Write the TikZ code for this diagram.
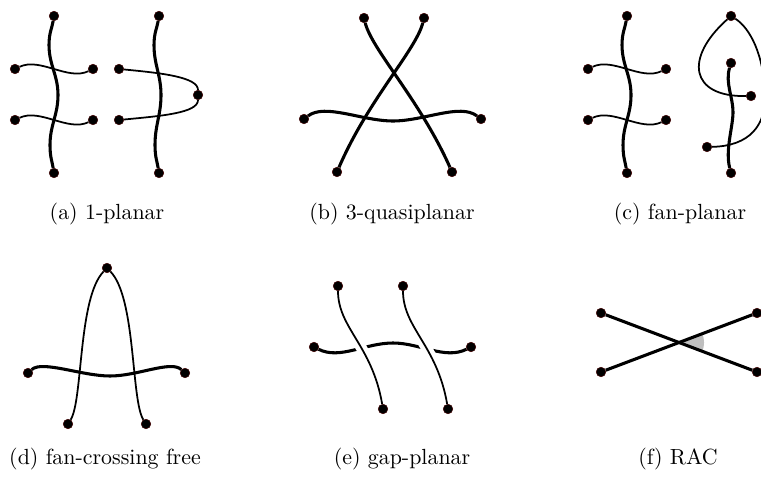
\documentclass[tikz,border=0pt]{standalone}
\usetikzlibrary{calc}
\definecolor{rim}{RGB}{70,0,0}

\begin{document}
\begin{tikzpicture}[
  x=0.01603cm, y=-0.01603cm,
  vtx/.style={circle, fill=black, draw=rim, line width=0.2pt, minimum size=4.4pt, inner sep=0pt},
  thk/.style={line width=1.4pt},
  thn/.style={line width=0.8pt},
  gapedge/.style={thn, preaction={draw=white, line width=5pt}},
  rightang/.style={fill=black!25},
  capt/.style={anchor=base}
]
  \clip (0,0) rectangle (761,479);

  \node[vtx] (a1t) at (54,16) {};
  \node[vtx] (a1b) at (54,173) {};
  \node[vtx] (a1l1) at (15,69) {};
  \node[vtx] (a1r1) at (93,69) {};
  \node[vtx] (a1l2) at (15,120) {};
  \node[vtx] (a1r2) at (93,120) {};
  \node[vtx] (a2t) at (159,16) {};
  \node[vtx] (a2b) at (159,173) {};
  \node[vtx] (a2l1) at (119,69) {};
  \node[vtx] (a2l2) at (119,120) {};
  \node[vtx] (a2r) at (198,95) {};

  \draw[thk] (a1t) .. controls +(-2,12) and +(0,-12) .. (49,45) .. controls +(0,20) and +(0,-20) .. (58,95) .. controls +(0,20) and +(0,-20) .. (50,145) .. controls +(0,12) and +(-2,-12) .. (a1b);
  \draw[thn] (a1l1) .. controls +(25,-12) and +(-25,12) .. (a1r1);
  \draw[thn] (a1l2) .. controls +(25,-12) and +(-25,12) .. (a1r2);
  \draw[thk] (a2t) .. controls +(-2,12) and +(0,-12) .. (154,45) .. controls +(0,20) and +(0,-20) .. (161,95) .. controls +(0,20) and +(0,-20) .. (155,145) .. controls +(0,12) and +(-2,-12) .. (a2b);
  \draw[thn] (a2l1) .. controls +(42,4) and +(0,-18) .. (a2r);
  \draw[thn] (a2l2) .. controls +(42,-4) and +(0,18) .. (a2r);

  \node[vtx] (b1) at (364,18) {};
  \node[vtx] (b2) at (424,18) {};
  \node[vtx] (b3) at (337,172) {};
  \node[vtx] (b4) at (452,172) {};
  \node[vtx] (b5) at (304,119) {};
  \node[vtx] (b6) at (481,119) {};

  \draw[thk] (b1) .. controls (372,50) and (420,100) .. (b4);
  \draw[thk] (b2) .. controls (416,50) and (368,100) .. (b3);
  \draw[thk] (b5) .. controls (325,103) and (362,121) .. (393,121) .. controls (424,121) and (460,103) .. (b6);

  \node[vtx] (c1t) at (627,16) {};
  \node[vtx] (c1b) at (627,173) {};
  \node[vtx] (c1l1) at (588,69) {};
  \node[vtx] (c1r1) at (666,69) {};
  \node[vtx] (c1l2) at (588,120) {};
  \node[vtx] (c1r2) at (666,120) {};
  \node[vtx] (c2t) at (731,16) {};
  \node[vtx] (c2u) at (731,63) {};
  \node[vtx] (c2r) at (751,96) {};
  \node[vtx] (c2l) at (707,147) {};
  \node[vtx] (c2b) at (731,173) {};

  \draw[thk] (c1t) .. controls +(-2,12) and +(0,-12) .. (622,45) .. controls +(0,20) and +(0,-20) .. (631,95) .. controls +(0,20) and +(0,-20) .. (623,145) .. controls +(0,12) and +(-2,-12) .. (c1b);
  \draw[thn] (c1l1) .. controls +(25,-12) and +(-25,12) .. (c1r1);
  \draw[thn] (c1l2) .. controls +(25,-12) and +(-25,12) .. (c1r2);
  \draw[thk] (c2u) .. controls +(-6,20) and +(0,-15) .. (733,112) .. controls +(0,15) and +(-6,-23) .. (c2b);
  \draw[thn] (c2t) .. controls (750,28) and (764,55) .. (765,95) .. controls (766,125) and (750,146) .. (c2l);
  \draw[thn] (c2t) .. controls (684,58) and (690,97) .. (c2r);

  \node[vtx] (d1) at (107,268) {};
  \node[vtx] (d2) at (28,373) {};
  \node[vtx] (d3) at (185,373) {};
  \node[vtx] (d4) at (68,424) {};
  \node[vtx] (d5) at (146,424) {};

  \draw[thn] (d1) .. controls (78,298) and (83,400) .. (d4);
  \draw[thn] (d1) .. controls (136,298) and (131,400) .. (d5);
  \draw[thk] (d2) .. controls (42,360) and (82,376) .. (110,376) .. controls (138,376) and (171,360) .. (d3);

  \node[vtx] (e1) at (338,286) {};
  \node[vtx] (e2) at (403,286) {};
  \node[vtx] (e3) at (314,347) {};
  \node[vtx] (e4) at (471,347) {};
  \node[vtx] (e5) at (383,409) {};
  \node[vtx] (e6) at (448,409) {};

  \draw[thk] (e3) .. controls (340,360) and (365,343) .. (393,343) .. controls (420,343) and (445,360) .. (e4);
  \draw[gapedge] (e1) .. controls (338,328) and (372,345) .. (e5);
  \draw[gapedge] (e2) .. controls (403,328) and (437,345) .. (e6);

  \node[vtx] (f1) at (601,313) {};
  \node[vtx] (f2) at (757,313) {};
  \node[vtx] (f3) at (601,372) {};
  \node[vtx] (f4) at (757,372) {};
  \coordinate (fx) at (intersection of f1--f4 and f3--f2);

  \fill[rightang] (fx) -- +(-21:25) arc[start angle=-21, end angle=21, radius=25] -- cycle;
  \draw[thk] (f1) -- (f4);
  \draw[thk] (f3) -- (f2);

  \node[capt] (ca) at (107,220) {(a) 1-planar};
  \node[capt] (cb) at (392,220) {(b) 3-quasiplanar};
  \node[capt] (cc) at (680,220) {(c) fan-planar};
  \node[capt] (cd) at (105,464) {(d) fan-crossing free};
  \node[capt] (ce) at (402,464) {(e) gap-planar};
  \node[capt] (cf) at (678,464) {(f) RAC};
\end{tikzpicture}
\end{document}
